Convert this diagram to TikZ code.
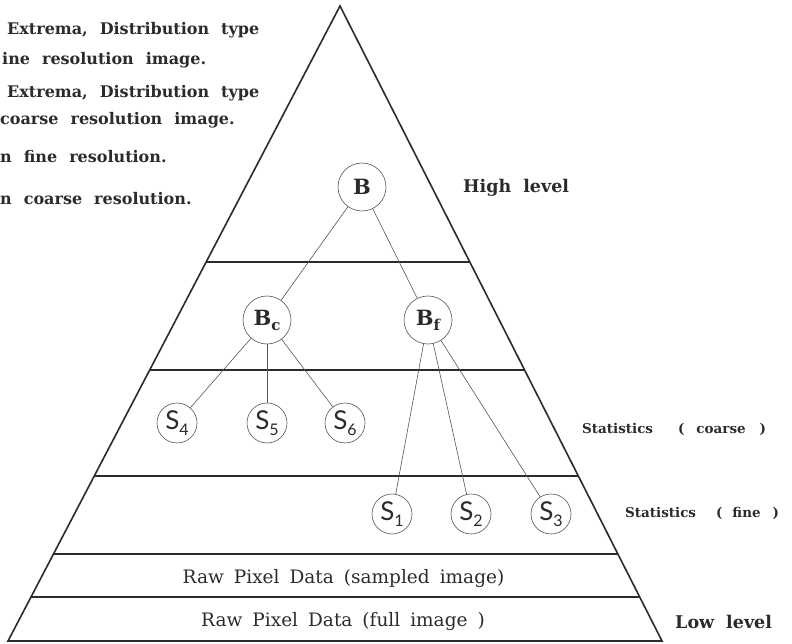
\documentclass[tikz,border=0pt]{standalone}
\usepackage{fontspec}
\usetikzlibrary{calc}
\newfontfamily\wserif{DejaVu Serif}
\newfontfamily\sslab{Lato}
\definecolor{ink}{HTML}{2B2B2B}
\definecolor{thin}{HTML}{555555}
\newcommand\notefont{\wserif\bfseries\fontsize{16}{20}\selectfont\spaceskip=12pt plus 1pt\relax}
\newcommand\lvlfont{\wserif\bfseries\fontsize{17.5}{24}\selectfont\spaceskip=12pt plus 1pt\relax}
\newcommand\statfont{\wserif\bfseries\fontsize{13.5}{18}\selectfont}
\newcommand\rawfont{\wserif\fontsize{18.5}{24}\selectfont\spaceskip=10pt plus 1pt\relax}
\newcommand\bsub[2]{#1\raisebox{-5pt}{\fontsize{15}{15}\selectfont #2}}
\newcommand\ssub[2]{S\raisebox{-6pt}{\fontsize{16}{16}\selectfont #2}}
\begin{document}
\begin{tikzpicture}[x=1pt,y=-1pt,
  frame/.style={draw=ink,line width=1.6pt},
  edge/.style={draw=thin,line width=0.6pt},
  bnode/.style={circle,draw=thin,line width=0.6pt,fill=white,minimum size=48pt,inner sep=0pt,
     text=ink,font=\wserif\bfseries\fontsize{21}{24}\selectfont},
  snode/.style={circle,draw=thin,line width=0.6pt,fill=white,minimum size=40pt,inner sep=0pt,
     text=ink,font=\sslab\fontsize{26}{28}\selectfont},
  note/.style={anchor=base west,inner sep=0pt,text=ink,font=\notefont},
  lvl/.style={anchor=base west,inner sep=0pt,text=ink,font=\lvlfont},
  stat/.style={anchor=base west,inner sep=0pt,text=ink,font=\statfont},
  raw/.style={anchor=base,inner sep=0pt,text=ink,font=\rawfont}
]
\useasboundingbox (0,0) rectangle (792,644);

% pyramid
\coordinate (A) at (340,6);
\coordinate (L) at (8,641);
\coordinate (R) at (662,641);
\draw[frame,line join=miter] (A) -- (L) -- (R) -- cycle;
\foreach \t in {0.4031,0.5732,0.7402,0.8630,0.9307}
  \draw[frame] ($(A)!\t!(L)$) -- ($(A)!\t!(R)$);

% tree nodes
\node[bnode] (B)  at (362,187) {B};
\node[bnode] (Bc) at (267,320) {\bsub{B}{c}};
\node[bnode] (Bf) at (428,320) {\bsub{B}{f}};
\node[snode] (S4) at (177,423) {\ssub{S}{4}};
\node[snode] (S5) at (267,423) {\ssub{S}{5}};
\node[snode] (S6) at (345,423) {\ssub{S}{6}};
\node[snode] (S1) at (392,514) {\ssub{S}{1}};
\node[snode] (S2) at (471,514) {\ssub{S}{2}};
\node[snode] (S3) at (551,514) {\ssub{S}{3}};

% connectors
\draw[edge] (B) -- (Bc);
\draw[edge] (B) -- (Bf);
\draw[edge] (Bc) -- (S4);
\draw[edge] (Bc) -- (S5);
\draw[edge] (Bc) -- (S6);
\draw[edge] (Bf) -- (S1);
\draw[edge] (Bf) -- (S2);
\draw[edge] (Bf) -- (S3);

% level labels
\node[lvl] (hl) at (463,193) {High level};
\node[stat] (sc) at (582,433) {Statistics\hspace{25pt}(\hspace{12pt}coarse\hspace{14pt})};
\node[stat] (sf) at (625,517) {Statistics\hspace{20pt}(\hspace{10pt}fine\hspace{12pt})};
\node[lvl] (ll) at (675,628) {Low level};

% raw data rows
\node[raw] (r1) at (343.5,583) {Raw Pixel Data (sampled image)};
\node[raw] (r2) at (343,626) {Raw Pixel Data (full image )};

% legend text (cut off at left edge)
\node[note] (n1) at (7,35)  {Extrema, Distribution type};
\node[note] (n2) at (2,65)  {ine resolution image.};
\node[note] (n3) at (7,98)  {Extrema, Distribution type};
\node[note] (n4) at (0,125) {coarse resolution image.};
\node[note] (n5) at (0,163) {n fine resolution.};
\node[note] (n6) at (0,205) {n coarse resolution.};
\end{tikzpicture}
\end{document}
